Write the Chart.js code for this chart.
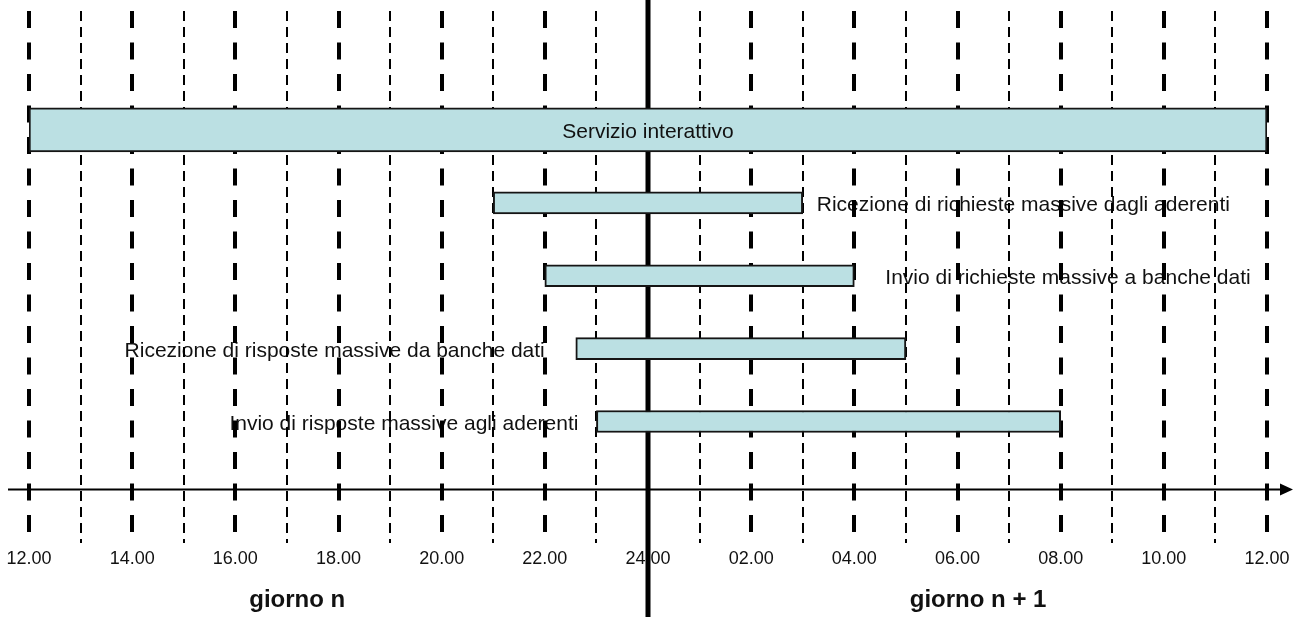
<!DOCTYPE html>
<html>
<head>
<meta charset="utf-8">
<script src="https://cdn.jsdelivr.net/npm/chart.js@4.4.0/dist/chart.umd.min.js"></script>
<style>
    html, body { margin: 0; padding: 0; background: #fff; }
    #wrap { width: 1301px; height: 617px; position: relative; }
</style>
</head>
<body>
<div id="wrap"><canvas id="myChart"></canvas></div>
<script>
// activities (hours counted from noon of day n, so 24 = midnight, 36 = noon of day n+1)
const taskNames = [
    'Servizio interattivo',
    'Ricezione di richieste massive dagli aderenti',
    'Invio di richieste massive a banche dati',
    'Ricezione di risposte massive da banche dati',
    'Invio di risposte massive agli aderenti'
];
const taskStart = [12, 21, 22, 22.6, 23];
const taskEnd = [36, 27, 28, 29, 32];

const hourLabels = ['12.00', '14.00', '16.00', '18.00', '20.00', '22.00', '24.00',
    '02.00', '04.00', '06.00', '08.00', '10.00', '12.00'];
const dayLabels = ['giorno n', 'giorno n + 1'];

// where each activity name goes, relative to its bar
const labelSide = ['inside', 'after', 'after', 'before', 'before'];
const labelGap = [0, 14, 31, 31, 18];

const FONT = "'Liberation Sans', Arial, sans-serif";
const TEXT = '#111';

const extras = {
    id: 'extras',
    beforeDraw(chart) {
        // names outside the bars sit under the dashed lines
        const ctx = chart.ctx;
        const xs = chart.scales.x;
        const ys = chart.scales.y;
        ctx.save();
        ctx.font = '21px ' + FONT;
        ctx.fillStyle = TEXT;
        ctx.textBaseline = 'alphabetic';
        taskNames.forEach((name, i) => {
            const y = ys.getPixelForValue(i) + 8;
            if (labelSide[i] === 'after') {
                ctx.textAlign = 'left';
                ctx.fillText(name, xs.getPixelForValue(taskEnd[i]) + labelGap[i], y);
            } else if (labelSide[i] === 'before') {
                ctx.textAlign = 'right';
                ctx.fillText(name, xs.getPixelForValue(taskStart[i]) - labelGap[i], y);
            }
        });
        ctx.restore();
    },
    beforeDatasetsDraw(chart) {
        const ctx = chart.ctx;
        const xs = chart.scales.x;
        const area = chart.chartArea;
        ctx.save();
        // midnight line
        const mid = Math.round(xs.getPixelForValue(24));
        ctx.strokeStyle = '#000';
        ctx.lineWidth = 5;
        ctx.beginPath();
        ctx.moveTo(mid, 0);
        ctx.lineTo(mid, chart.height);
        ctx.stroke();

        // time arrow
        const ay = area.bottom - 54;
        ctx.lineWidth = 2;
        ctx.beginPath();
        ctx.moveTo(8, ay);
        ctx.lineTo(1284, ay);
        ctx.stroke();
        ctx.fillStyle = '#000';
        ctx.beginPath();
        ctx.moveTo(1293, ay);
        ctx.lineTo(1280, ay - 6);
        ctx.lineTo(1280, ay + 6);
        ctx.closePath();
        ctx.fill();

        // day captions
        ctx.font = 'bold 24px ' + FONT;
        ctx.textAlign = 'center';
        ctx.textBaseline = 'alphabetic';
        ctx.fillStyle = TEXT;
        ctx.fillText(dayLabels[0], xs.getPixelForValue(17.2), 607);
        ctx.fillText(dayLabels[1], xs.getPixelForValue(30.4), 607);
        ctx.restore();
    },
    afterDatasetsDraw(chart) {
        const ctx = chart.ctx;
        const xs = chart.scales.x;
        const ys = chart.scales.y;
        ctx.save();
        ctx.font = '21px ' + FONT;
        ctx.fillStyle = TEXT;
        ctx.textAlign = 'center';
        ctx.textBaseline = 'alphabetic';
        taskNames.forEach((name, i) => {
            if (labelSide[i] !== 'inside') return;
            const cx = xs.getPixelForValue((taskStart[i] + taskEnd[i]) / 2);
            ctx.fillText(name, cx, ys.getPixelForValue(i) + 8);
        });
        ctx.restore();
    }
};

const bigRow = [{ x: [taskStart[0], taskEnd[0]], y: 0 }];
const otherRows = [];
for (let i = 1; i < taskNames.length; i++) {
    otherRows.push({ x: [taskStart[i], taskEnd[i]], y: i });
}

const barStyle = {
    backgroundColor: 'rgb(187, 224, 227)',
    borderColor: '#151515',
    borderWidth: 2,
    borderSkipped: false,
    grouped: false
};

const ctx = document.getElementById('myChart').getContext('2d');
const myChart = new Chart(ctx, {
    type: 'bar',
    data: {
        datasets: [
            Object.assign({ data: bigRow, barThickness: 44 }, barStyle),
            Object.assign({ data: otherRows, barThickness: 22 }, barStyle)
        ]
    },
    options: {
        indexAxis: 'y',
        responsive: true,
        maintainAspectRatio: false,
        animation: false,
        layout: {
            padding: { left: 29, right: 34, top: 11, bottom: 43 }
        },
        plugins: {
            legend: { display: false },
            tooltip: { enabled: false }
        },
        scales: {
            x: {
                type: 'linear',
                min: 12,
                max: 36,
                ticks: {
                    stepSize: 1,
                    autoSkip: false,
                    maxRotation: 0,
                    padding: 4.5,
                    color: TEXT,
                    font: { family: FONT, size: 18 },
                    callback: (v) => (v % 2 === 0 ? hourLabels[(v - 12) / 2] : '')
                },
                grid: {
                    drawTicks: false,
                    color: (c) => (c.tick && c.tick.value === 24 ? 'rgba(0,0,0,0)' : '#000'),
                    lineWidth: (c) => (c.tick && c.tick.value % 2 === 0 ? 4 : 2)
                },
                border: {
                    display: false,
                    dash: (c) => (c.tick && c.tick.value % 2 === 0 ? [17, 14.5] : [10, 6])
                }
            },
            y: {
                type: 'linear',
                display: false,
                offset: false,
                reverse: true,
                min: -1.631,
                max: 5.672
            }
        }
    },
    plugins: [extras]
});
</script>
</body>
</html>
